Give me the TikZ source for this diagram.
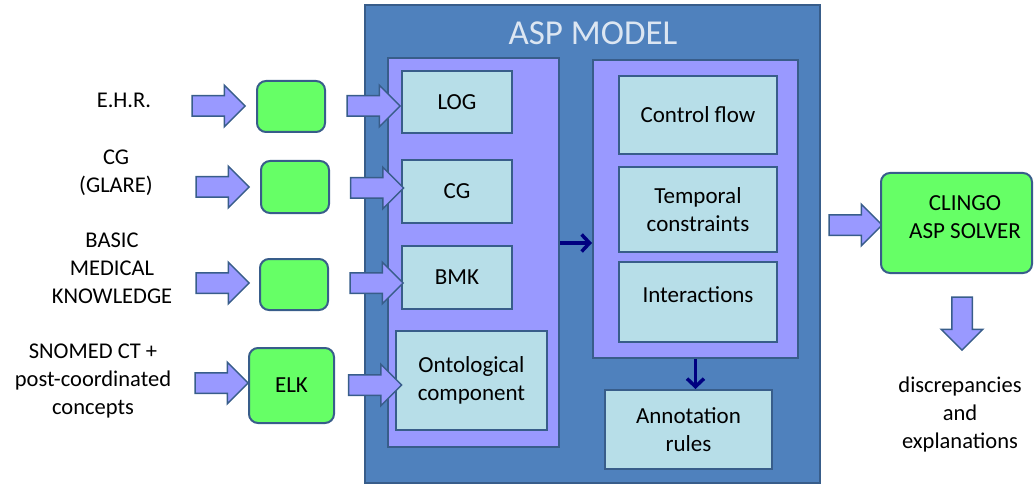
\documentclass[tikz,border=0pt]{standalone}
\usepackage{fontspec}
\setmainfont{Carlito}
\usetikzlibrary{shapes.arrows,arrows.meta}

\definecolor{aspblue}{HTML}{4F81BD}
\definecolor{edgeblue}{HTML}{385D8A}
\definecolor{lilac}{HTML}{9999FF}
\definecolor{paleblue}{HTML}{B7DEE8}
\definecolor{solvergreen}{HTML}{66FF66}
\definecolor{titlegray}{HTML}{DCE6F2}
\definecolor{darknavy}{HTML}{000080}

\newcommand{\labelfont}{\fontsize{22.5}{28}\selectfont}
\newcommand{\partfont}{\fontsize{23}{28}\selectfont}
\newcommand{\titlefont}{\fontsize{35}{40}\selectfont}

\tikzset{
  panel/.style={draw=edgeblue, line width=2pt, fill=lilac, inner sep=0pt},
  part/.style={draw=edgeblue, line width=2pt, fill=paleblue, inner sep=0pt, align=center, font=\partfont},
  tool/.style={draw=edgeblue, line width=2pt, fill=solvergreen, rounded corners=9pt, inner sep=0pt, align=center, font=\partfont},
  source/.style={align=center, font=\labelfont},
  barrow/.style={single arrow, draw=edgeblue, line width=1.5pt, fill=lilac,
    minimum height=53pt, minimum width=40pt, single arrow head extend=10.5pt,
    inner xsep=0pt, inner ysep=9.5pt},
  flow/.style={darknavy, line width=3.5pt, -{Straight Barb[length=8pt,width=17pt]}}
}

\begin{document}
\begin{tikzpicture}[x=1pt,y=-1pt]
    \useasboundingbox (0,0) rectangle (1034,484);

    % ASP model and its two groups
    \node[draw=edgeblue, line width=2pt, fill=aspblue, minimum width=455pt, minimum height=478pt] (asp) at (592.5,244) {};
    \node[font=\titlefont, text=titlegray] (title) at (593,33) {ASP MODEL};
    \node[panel, minimum width=171pt, minimum height=389pt] (leftpanel) at (473.5,252.5) {};
    \node[panel, minimum width=205pt, minimum height=298pt] (rightpanel) at (695.5,209) {};

    \node[part, minimum width=110pt, minimum height=62pt] (log) at (457,102) {LOG};
    \node[part, minimum width=110pt, minimum height=63pt] (cgpart) at (457,191.5) {CG};
    \node[part, minimum width=110pt, minimum height=63pt] (bmk) at (457,277.5) {BMK};
    \node[part, minimum width=151pt, minimum height=99pt] (onto) at (471.5,380.5) {Ontological\\component};

    \node[part, minimum width=158pt, minimum height=78pt] (ctrl) at (698,115) {Control flow};
    \node[part, minimum width=158pt, minimum height=85pt] (temp) at (698,209.5) {Temporal\\constraints};
    \node[part, minimum width=158pt, minimum height=80pt, text depth=14pt] (inter) at (698,302) {Interactions};
    \node[part, minimum width=167pt, minimum height=79pt] (annot) at (688.5,429.5) {Annotation\\rules};

    \coordinate (mid) at (575,243);
    \draw[flow] (leftpanel.east |- mid) -- (rightpanel.west |- mid);
    \draw[flow] (rightpanel.south) -- (rightpanel.south |- annot.north);

    % sources on the left
    \node[source] (ehr) at (124,100) {E.H.R.};
    \node[source] (cg) at (116,172.5) {CG\\(GLARE)};
    \node[source] (basic) at (112,268) {BASIC\\MEDICAL\\KNOWLEDGE};
    \node[source] (snomed) at (93,381) {SNOMED CT +\\post-coordinated\\concepts};

    \node[tool, minimum width=68pt, minimum height=51pt] (ehrtool) at (291,106.5) {};
    \node[tool, minimum width=68pt, minimum height=52pt] (cgtool) at (295,187) {};
    \node[tool, minimum width=68pt, minimum height=51pt] (bmktool) at (294,284.5) {};
    \node[tool, minimum width=85pt, minimum height=75pt] (elk) at (291.5,385.5) {ELK};

    \node[barrow] (ehrin) at (213.5,106) {};
    \node[barrow] (cgin) at (217.5,187) {};
    \node[barrow] (bmkin) at (217.5,283) {};
    \node[barrow] (snomedin) at (216.5,383) {};

    \node[barrow] (login) at (368.5,106) {};
    \node[barrow] (cgpartin) at (372,188) {};
    \node[barrow] (bmkpartin) at (371.5,283) {};
    \node[barrow] (ontoin) at (370,385) {};

    % solver
    \node[barrow] (solverin) at (850.5,225) {};
    \node[tool, minimum width=151pt, minimum height=100pt] (clingo) at (956.5,223) {};
    \node[font=\partfont, align=center] (clingotext) at (965,217.5) {CLINGO\\ASP SOLVER};
    \node[barrow, rotate=-90] (solverout) at (962,318.5) {};
    \node[source] (result) at (960,414) {discrepancies\\and\\explanations};
\end{tikzpicture}
\end{document}
